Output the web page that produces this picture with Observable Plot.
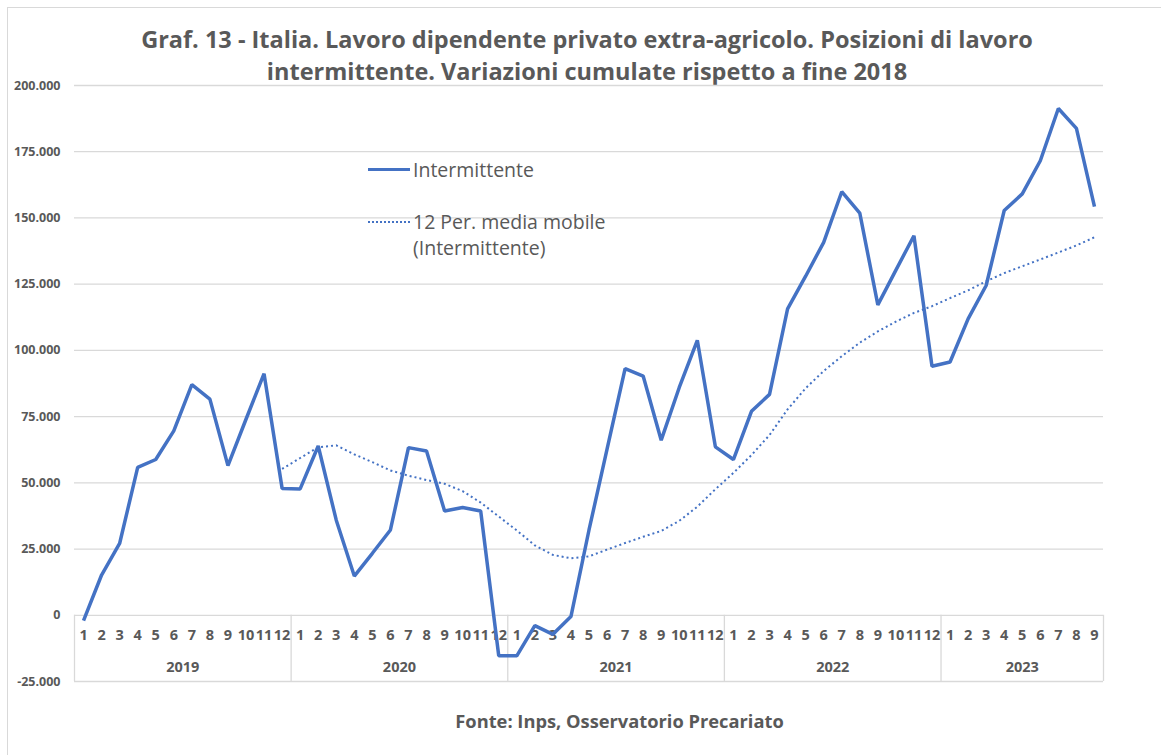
<!DOCTYPE html>
<html>
<head>
<meta charset="utf-8">
<script src="https://cdn.jsdelivr.net/npm/d3@7"></script>
<script src="https://cdn.jsdelivr.net/npm/@observablehq/plot@0.6"></script>
<style>
  html, body { margin: 0; padding: 0; background: #fff; }
  body { width: 1161px; height: 755px; position: relative; overflow: hidden; font-family: "Open Sans", Lato, sans-serif; color: #595959; }
  #frame { position: absolute; left: 7px; top: 7px; width: 1170px; height: 770px; border: 1px solid #d9d9d9; box-sizing: border-box; }
  #title { position: relative; height: 70px; box-sizing: border-box; padding-top: 23px; margin-left: 7px; width: 1160px; text-align: center; font-weight: bold; font-size: 23.5px; line-height: 32px; color: #595959; white-space: nowrap; }
  #chart { position: relative; height: 631px; }
  #footer { position: relative; height: 40px; line-height: 40px; text-align: center; font-weight: bold; font-size: 18.3px; color: #595959; width: 1161px; padding-left: 78px; box-sizing: border-box; }
  #legend { position: absolute; left: 368px; top: 157px; font-size: 19.5px; color: #595959; line-height: 26px; }
  .item { position: relative; padding-left: 45px; }
  .sw { position: absolute; left: 0; width: 42px; height: 0; }
</style>
</head>
<body>
<div id="frame"></div>
<div id="title">Graf. 13 - Italia. Lavoro dipendente privato extra-agricolo. Posizioni di lavoro<br>intermittente. Variazioni cumulate rispetto a fine 2018</div>
<div id="chart"></div>
<div id="footer">Fonte: Inps, Osservatorio Precariato</div>
<div id="legend">
  <div class="item"><span class="sw" style="top:11px;border-top:3.5px solid #4472C4;"></span>Intermittente</div>
  <div class="item" style="margin-top:26px;"><span class="sw" style="top:12px;border-top:2px dotted #4472C4;"></span>12 Per. media mobile<br>(Intermittente)</div>
</div>
<script>
// Data (cumulative changes vs end of 2018)
const years = [2019, 2020, 2021, 2022, 2023];
const values2019 = [-2000, 15200, 27100, 55800, 58800, 69600, 87100, 81600, 56500, 74000, 91200, 47900];
const values2020 = [47700, 63900, 35900, 14800, 23400, 32200, 63300, 62000, 39400, 40700, 39400, -15300];
const values2021 = [-15300, -3900, -7200, -500, 32200, 62700, 93100, 90300, 66100, 86000, 103800, 63600];
const values2022 = [58800, 77000, 83400, 115700, 128000, 140800, 159900, 151800, 117200, 130300, 143300, 94000];
const values2023 = [95600, 111900, 124500, 152800, 159100, 171600, 191300, 183800, 154300];
const yTicks = [-25000, 0, 25000, 50000, 75000, 100000, 125000, 150000, 175000, 200000];

const seriesByYear = [values2019, values2020, values2021, values2022, values2023];
const rows = [];
seriesByYear.forEach((vals, yi) => {
  vals.forEach((v, mi) => rows.push({ i: rows.length, year: years[yi], month: String(mi + 1), v }));
});
const yearGroups = years.map(y => {
  const r = rows.filter(d => d.year === y);
  return { year: String(y), first: r[0].i - 0.5, last: r[r.length - 1].i + 0.5, mid: d3.mean(r, d => d.i) };
});
const bounds = [yearGroups[0].first, ...yearGroups.map(g => g.last)];

const loc = d3.formatLocale({ decimal: ",", thousands: ".", grouping: [3], currency: ["", ""], minus: "-" });
const fmt = loc.format(",");
const blue = "#4472C4";
const grey = "#595959";

const chart = Plot.plot({
  width: 1161,
  height: 631,
  marginTop: 15,
  marginBottom: 20,
  marginLeft: 74,
  marginRight: 58,
  style: { fontFamily: "'Open Sans', Lato, sans-serif", color: grey, background: "transparent" },
  x: { domain: [-0.5, rows.length - 0.5], axis: null },
  y: { domain: [-25000, 200000], ticks: yTicks, tickFormat: d => fmt(d), label: null },
  marks: [
    Plot.ruleY(yTicks, { stroke: "#d9d9d9", strokeWidth: 1.3 }),
    Plot.ruleX(bounds, { x: d => d, y1: -25000, y2: 0, stroke: "#d9d9d9", strokeWidth: 1.3 }),
    Plot.axisY({ ticks: yTicks, tickSize: 0, tickPadding: 14, fontWeight: "bold", fontSize: 12.5, tickFormat: d => fmt(d), label: null }),
    Plot.text(rows, { x: "i", text: "month", frameAnchor: "bottom", dy: -42, fontWeight: "bold", fontSize: 14.5, fill: grey }),
    Plot.text(yearGroups, { x: "mid", text: "year", frameAnchor: "bottom", dy: -10, fontWeight: "bold", fontSize: 14.5, fill: grey }),
    Plot.lineY(rows, Plot.windowY({ k: 12, anchor: "end", reduce: "mean", strict: true }, { x: "i", y: "v", stroke: blue, strokeWidth: 2, strokeDasharray: "2,3", strokeLinecap: "butt" })),
    Plot.lineY(rows, { x: "i", y: "v", stroke: blue, strokeWidth: 3.5, strokeLinejoin: "miter", strokeLinecap: "butt" })
  ]
});
document.getElementById("chart").appendChild(chart);
</script>
</body>
</html>
